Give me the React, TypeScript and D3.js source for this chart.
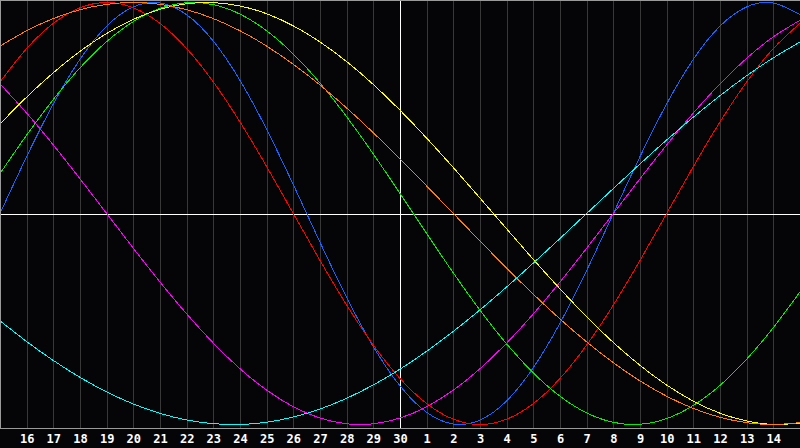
import React, { useEffect, useRef } from 'react';
import * as d3 from 'd3';

// day index 15..45 (15 = day 15 of previous month, 30 = today line, 45 = day 15 next month)
const dayIndex = [15, 16, 17, 18, 19, 20, 21, 22, 23, 24, 25, 26, 27, 28, 29, 30, 31, 32, 33, 34, 35, 36, 37, 38, 39, 40, 41, 42, 43, 44, 45];

const tickLabels = ['16', '17', '18', '19', '20', '21', '22', '23', '24', '25', '26', '27', '28', '29', '30',
  '1', '2', '3', '4', '5', '6', '7', '8', '9', '10', '11', '12', '13', '14'];

// values read per day, -1..1
const physical = [0, 0.2698, 0.5196, 0.7308, 0.8879, 0.9791, 0.9977, 0.9423, 0.817, 0.6311, 0.3984, 0.1362, -0.1362,
  -0.3984, -0.6311, -0.817, -0.9423, -0.9977, -0.9791, -0.8879, -0.7308, -0.5196, -0.2698, 0, 0.2698, 0.5196, 0.7308,
  0.8879, 0.9791, 0.9977, 0.9423];
const emotional = [0.6235, 0.7818, 0.901, 0.9749, 1, 0.9749, 0.901, 0.7818, 0.6235, 0.4339, 0.2225, 0, -0.2225,
  -0.4339, -0.6235, -0.7818, -0.901, -0.9749, -1, -0.9749, -0.901, -0.7818, -0.6235, -0.4339, -0.2225, 0, 0.2225,
  0.4339, 0.6235, 0.7818, 0.901];
const intellectual = [0.1893, 0.3717, 0.5406, 0.6901, 0.8146, 0.9096, 0.9718, 0.9989, 0.9898, 0.945, 0.866, 0.7557,
  0.6182, 0.4582, 0.2817, 0.0951, -0.0951, -0.2817, -0.4582, -0.6182, -0.7557, -0.866, -0.945, -0.9898, -0.9989,
  -0.9718, -0.9096, -0.8146, -0.6901, -0.5406, -0.3717];
const intuitive = [0.6142, 0.4759, 0.3247, 0.1646, 0, -0.1646, -0.3247, -0.4759, -0.6142, -0.7357, -0.8372, -0.9158,
  -0.9694, -0.9966, -0.9966, -0.9694, -0.9158, -0.8372, -0.7357, -0.6142, -0.4759, -0.3247, -0.1646, 0, 0.1646,
  0.3247, 0.4759, 0.6142, 0.7357, 0.8372, 0.9158];
const aesthetic = [0.4244, 0.5517, 0.6671, 0.7687, 0.8533, 0.9204, 0.9675, 0.994, 0.9993, 0.9834, 0.9465, 0.8893,
  0.8131, 0.7198, 0.6113, 0.4894, 0.3572, 0.2175, 0.073, -0.073, -0.2175, -0.3572, -0.4894, -0.6113, -0.7198,
  -0.8131, -0.8893, -0.9465, -0.9834, -0.9993, -0.994];
const awareness = [0.7934, 0.866, 0.9239, 0.9659, 0.9914, 1, 0.9914, 0.9659, 0.9239, 0.866, 0.7934, 0.7071, 0.6088,
  0.5, 0.3827, 0.2588, 0.1305, 0, -0.1305, -0.2588, -0.3827, -0.5, -0.6088, -0.7071, -0.7934, -0.866, -0.9239,
  -0.9659, -0.9914, -1, -0.9914];
const spiritual = [-0.5085, -0.6069, -0.6966, -0.7766, -0.8456, -0.9028, -0.9473, -0.9785, -0.9961, -0.9996, -0.989,
  -0.9646, -0.9267, -0.8757, -0.8125, -0.7378, -0.6528, -0.5586, -0.4566, -0.3482, -0.2349, -0.1183, 0, 0.1183,
  0.2349, 0.3482, 0.4566, 0.5586, 0.6528, 0.7378, 0.8125];

const seriesNames = ['physical', 'emotional', 'intellectual', 'intuitive', 'aesthetic', 'awareness', 'spiritual'];
const seriesValues = [physical, emotional, intellectual, intuitive, aesthetic, awareness, spiritual];
const seriesColors = ['#1464ff', '#ff0000', '#00ee00', '#ff00ff', '#ffff00', '#ff8000', '#00ffff'];

const Biorhythm = () => {
  const ref = useRef<SVGSVGElement>(null);

  useEffect(() => {
    if (!ref.current) return;
    const svg = d3.select(ref.current);
    svg.selectAll('*').remove();

    const W = 800;
    const H = 448;
    const plotBottom = 428;

    svg.attr('width', W).attr('height', H);

    svg.append('rect').attr('width', W).attr('height', H).attr('fill', '#050508');

    const x = d3.scaleLinear().domain([15, 45]).range([0, W]);
    const y = d3.scaleLinear().domain([-1, 1]).range([424.5, 2.5]);

    const gridDays = d3.range(16, 45);

    // day grid
    svg.append('g')
      .selectAll('line')
      .data(gridDays)
      .join('line')
      .attr('x1', d => Math.round(x(d)) + 0.5)
      .attr('x2', d => Math.round(x(d)) + 0.5)
      .attr('y1', 0)
      .attr('y2', plotBottom)
      .attr('stroke', '#383838')
      .attr('shape-rendering', 'crispEdges');

    // zero line and today line
    svg.append('line')
      .attr('x1', 0).attr('x2', W)
      .attr('y1', Math.round(y(0)) + 0.5).attr('y2', Math.round(y(0)) + 0.5)
      .attr('stroke', '#ffffff')
      .attr('shape-rendering', 'crispEdges');
    svg.append('line')
      .attr('x1', Math.round(x(30)) + 0.5).attr('x2', Math.round(x(30)) + 0.5)
      .attr('y1', 0).attr('y2', plotBottom)
      .attr('stroke', '#ffffff')
      .attr('shape-rendering', 'crispEdges');

    const line = d3.line<number>()
      .x((_, i) => x(dayIndex[i]))
      .y(d => y(d))
      .curve(d3.curveNatural);

    svg.append('g')
      .selectAll('path')
      .data(seriesValues)
      .join('path')
      .attr('class', (_, i) => seriesNames[i])
      .attr('d', d => line(d))
      .attr('fill', 'none')
      .attr('stroke', (_, i) => seriesColors[i])
      .attr('stroke-width', 1)
      .attr('shape-rendering', 'crispEdges');

    // frame
    svg.append('path')
      .attr('d', `M0.5,${plotBottom + 0.5}V0.5H${W}`)
      .attr('fill', 'none')
      .attr('stroke', '#9a9a9a')
      .attr('shape-rendering', 'crispEdges');
    svg.append('line')
      .attr('x1', 0).attr('x2', W)
      .attr('y1', plotBottom + 0.5).attr('y2', plotBottom + 0.5)
      .attr('stroke', '#9a9a9a')
      .attr('shape-rendering', 'crispEdges');

    const axis = svg.append('g')
      .attr('transform', `translate(0, ${plotBottom})`)
      .call(d3.axisBottom(x)
        .tickValues(gridDays)
        .tickFormat((d, i) => tickLabels[i])
        .tickSize(0)
        .tickPadding(6));
    axis.select('.domain').remove();
    axis.selectAll('text')
      .attr('fill', '#ffffff')
      .style('font-family', '"DejaVu Sans Mono", monospace')
      .style('font-weight', 'bold')
      .style('font-size', '12px');
  }, []);

  return <svg ref={ref} style={{ display: 'block' }} />;
};

export default function App() {
  return (
    <div style={{ position: 'absolute', left: 0, top: 0, width: 800, height: 448, background: '#050508' }}>
      <Biorhythm />
    </div>
  );
}
